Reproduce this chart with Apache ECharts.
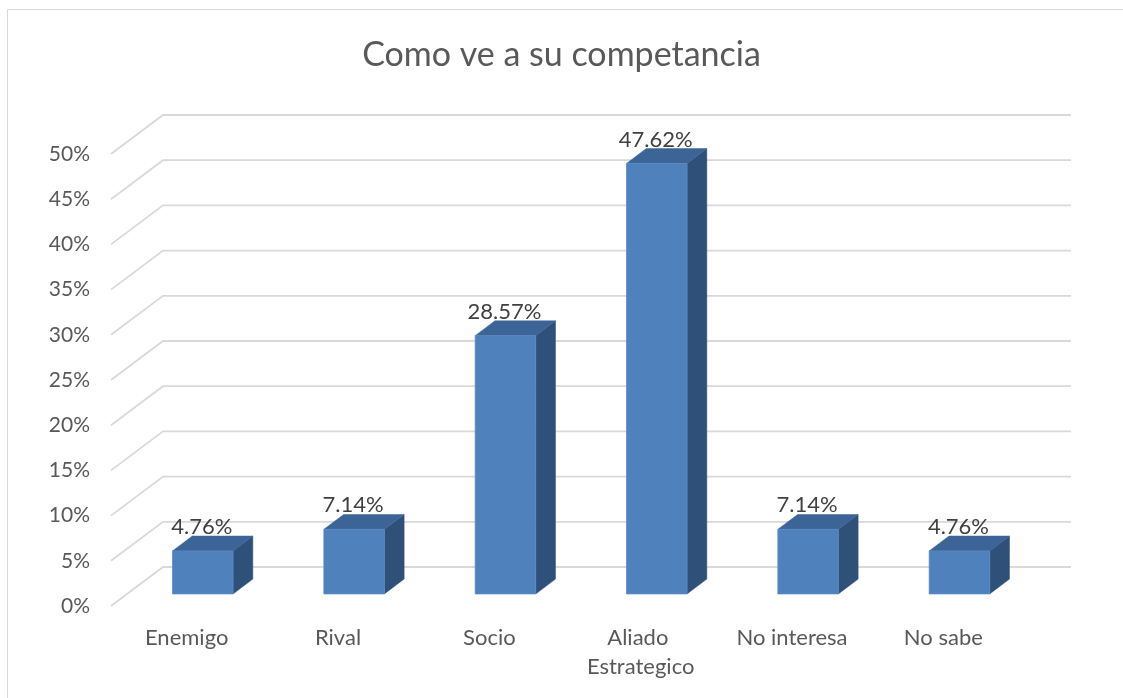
<!DOCTYPE html>
<html>
<head>
<meta charset="utf-8">
<script src="https://cdn.jsdelivr.net/npm/echarts@6/dist/echarts.min.js"></script>
<style>
  html, body { margin: 0; padding: 0; background: #ffffff; }
  #chart { width: 1123px; height: 698px; }
</style>
</head>
<body>
<div id="chart"></div>
<script>
// Survey answers: how each respondent sees its competition
const categories = ['Enemigo', 'Rival', 'Socio', 'Aliado Estrategico', 'No interesa', 'No sabe'];
const shares = [4.76, 7.14, 28.57, 47.62, 7.14, 4.76];
const yTicks = [0, 5, 10, 15, 20, 25, 30, 35, 40, 45, 50];

const FONT = 'Lato, "Open Sans", sans-serif';
const TEXT = '#595959';

// Depth of the 3D plot box (screen offset from the front plane to the back wall)
const DEPTH_X = 52, DEPTH_Y = -39;
// Bars sit in the middle of the box depth
const BAR_FRONT = 0.31, BAR_DEPTH = 0.38;

const chart = echarts.init(document.getElementById('chart'), null, { renderer: 'canvas' });

function renderGridLine(params, api) {
  const cs = params.coordSys;
  const y = api.coord([0, api.value(1)])[1];
  const left = cs.x, right = cs.x + cs.width;
  return {
    type: 'polyline',
    silent: true,
    shape: { points: [[left, y], [left + DEPTH_X, y + DEPTH_Y], [right + DEPTH_X, y + DEPTH_Y]] },
    style: { stroke: '#D9D9D9', lineWidth: 1.8, fill: null }
  };
}

function renderBar(params, api) {
  const idx = api.value(0), v = api.value(1);
  const top = api.coord([idx, v]);
  const base = api.coord([idx, 0]);
  const w = api.size([1, 0])[0] * 0.4;
  const ox = DEPTH_X * BAR_FRONT, oy = DEPTH_Y * BAR_FRONT;
  const dx = DEPTH_X * BAR_DEPTH, dy = DEPTH_Y * BAR_DEPTH;
  const x0 = top[0] + ox - w / 2, x1 = x0 + w;
  const yt = top[1] + oy, yb = base[1] + oy;
  return {
    type: 'group',
    children: [
      {
        type: 'polygon',
        shape: { points: [[x1, yt], [x1 + dx, yt + dy], [x1 + dx, yb + dy], [x1, yb]] },
        style: { fill: '#2F5079', stroke: '#2F5079', lineWidth: 0.5 }
      },
      {
        type: 'polygon',
        shape: { points: [[x0, yt], [x0 + dx, yt + dy], [x1 + dx, yt + dy], [x1, yt]] },
        style: { fill: '#3C6496', stroke: '#3C6496', lineWidth: 0.5 }
      },
      {
        type: 'rect',
        shape: { x: x0, y: yt, width: w, height: yb - yt },
        style: { fill: '#4F81BD', stroke: '#5A8AC4', lineWidth: 0.8 }
      },
      {
        type: 'text',
        style: {
          x: (x0 + x1) / 2 - 1,
          y: yt - 24,
          text: v.toFixed(2) + '%',
          align: 'center',
          verticalAlign: 'middle',
          fill: '#404040',
          font: '22px ' + FONT
        }
      }
    ]
  };
}

const option = {
  backgroundColor: '#ffffff',
  animation: false,
  title: {
    text: 'Como ve a su competancia',
    left: 'center',
    top: 33,
    textStyle: { color: TEXT, fontSize: 34, fontWeight: 'normal', fontFamily: FONT }
  },
  graphic: [{
    type: 'rect',
    silent: true,
    shape: { x: 7.5, y: 9.5, width: 1140, height: 720 },
    style: { fill: null, stroke: '#D9D9D9', lineWidth: 1 }
  }],
  grid: { left: 111, right: 104, top: 154, bottom: 92, containLabel: false },
  xAxis: {
    type: 'category',
    data: categories,
    axisLine: { show: false },
    axisTick: { show: false },
    splitLine: { show: false },
    axisLabel: {
      color: TEXT, fontSize: 22, fontFamily: FONT, margin: 17,
      lineHeight: 29, width: 140, overflow: 'break', interval: 0
    }
  },
  yAxis: {
    type: 'value',
    min: 0, max: 50, interval: 5,
    axisLine: { show: false },
    axisTick: { show: false },
    splitLine: { show: false },
    axisLabel: { color: TEXT, fontSize: 21, fontFamily: FONT, margin: 21, formatter: '{value}%' }
  },
  series: [
    {
      type: 'custom',
      z: 1,
      renderItem: renderGridLine,
      data: yTicks.map(t => [0, t]),
      encode: { x: 0, y: 1 },
      silent: true
    },
    {
      type: 'custom',
      z: 2,
      renderItem: renderBar,
      data: shares.map((s, i) => [i, s]),
      encode: { x: 0, y: 1 }
    }
  ]
};

chart.setOption(option);
</script>
</body>
</html>
